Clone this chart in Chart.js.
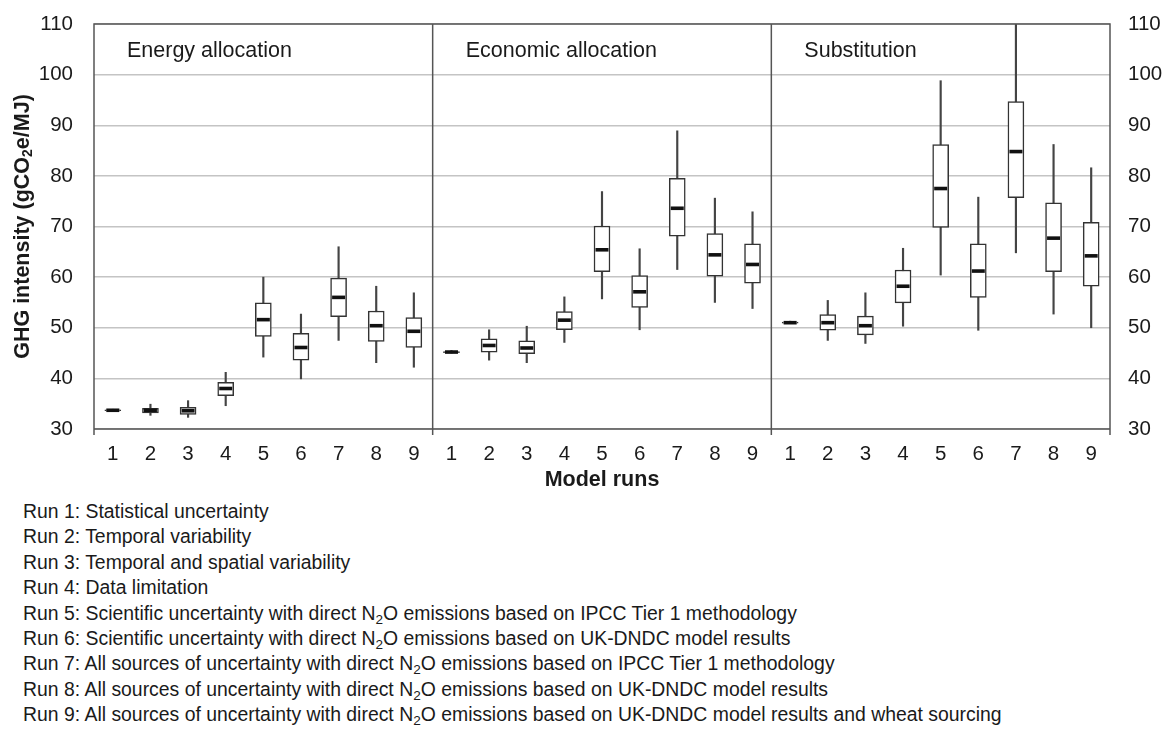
<!DOCTYPE html>
<html>
<head>
<meta charset="utf-8">
<script src="https://cdn.jsdelivr.net/npm/chart.js@4.4.1/dist/chart.umd.min.js"></script>
<style>
  html, body { margin: 0; padding: 0; background: #fff; }
  #wrap { position: relative; width: 1168px; height: 731px; background: #fff; overflow: hidden; }
  #chart { position: absolute; left: 0; top: 0; }
  #notes {
    position: absolute; left: 23px; top: 499px;
    font-family: "Liberation Sans", Arial, sans-serif; font-size: 19.4px;
    line-height: 25.4px; color: #1a1a1a; white-space: nowrap;
  }
  #notes sub { font-size: 0.7em; vertical-align: -0.3em; line-height: 0; }
</style>
</head>
<body>
<div id="wrap">
  <canvas id="chart" width="1168" height="495"></canvas>
  <div id="notes">
    <div>Run 1: Statistical uncertainty</div>
    <div>Run 2: Temporal variability</div>
    <div>Run 3: Temporal and spatial variability</div>
    <div>Run 4: Data limitation</div>
    <div>Run 5: Scientific uncertainty with direct N<sub>2</sub>O emissions based on IPCC Tier 1 methodology</div>
    <div>Run 6: Scientific uncertainty with direct N<sub>2</sub>O emissions based on UK-DNDC model results</div>
    <div>Run 7: All sources of uncertainty with direct N<sub>2</sub>O emissions based on IPCC Tier 1 methodology</div>
    <div>Run 8: All sources of uncertainty with direct N<sub>2</sub>O emissions based on UK-DNDC model results</div>
    <div>Run 9: All sources of uncertainty with direct N<sub>2</sub>O emissions based on UK-DNDC model results and wheat sourcing</div>
  </div>
</div>
<script>
// Allocation approaches, each with model runs 1-9
const panels = ['Energy allocation', 'Economic allocation', 'Substitution'];
const runs = ['1', '2', '3', '4', '5', '6', '7', '8', '9'];

// GHG intensity (gCO2e/MJ) statistics per run, panel by panel
const whiskerLow = [
  33.5, 32.7, 32.3, 34.6, 44.2, 39.9, 47.5, 43.1, 42.2,
  45.0, 43.6, 43.1, 47.1, 55.7, 49.6, 61.5, 55.0, 53.8,
  50.8, 47.5, 46.9, 50.3, 60.4, 49.5, 64.8, 52.7, 50.0
];
const boxLow = [
  33.6, 33.2, 32.9, 36.6, 48.3, 43.6, 52.2, 47.3, 46.1,
  45.1, 45.2, 44.9, 49.6, 61.1, 54.0, 68.1, 60.2, 58.8,
  50.9, 49.5, 48.6, 54.9, 69.8, 56.0, 75.7, 61.1, 58.2
];
const medians = [
  33.7, 33.7, 33.6, 38.0, 51.6, 46.1, 56.0, 50.4, 49.3,
  45.2, 46.5, 46.0, 51.5, 65.4, 57.1, 73.6, 64.4, 62.5,
  51.0, 51.0, 50.4, 58.2, 77.5, 61.2, 84.8, 67.7, 64.2
];
const boxHigh = [
  33.8, 34.1, 34.3, 39.2, 54.9, 48.9, 59.8, 53.3, 52.0,
  45.3, 47.8, 47.4, 53.2, 70.1, 60.3, 79.5, 68.6, 66.6,
  51.1, 52.6, 52.3, 61.4, 86.2, 66.6, 94.7, 74.7, 70.8
];
const whiskerHigh = [
  33.9, 34.9, 35.6, 41.2, 60.0, 52.7, 66.0, 58.2, 56.9,
  45.5, 49.6, 50.3, 56.1, 76.9, 65.6, 88.9, 75.6, 72.9,
  51.3, 55.4, 56.9, 65.7, 98.8, 75.8, 110.0, 86.2, 81.6
];
const yTicks = [30, 40, 50, 60, 70, 80, 90, 100, 110];

const FONT = '"Liberation Sans", Arial, sans-serif';
const labels = panels.flatMap(() => runs);

// frame, panel dividers, panel names and axis titles
const decorations = {
  id: 'decorations',
  afterDatasetsDraw(chart) {
    const { ctx, chartArea: a, scales: { x } } = chart;
    ctx.save();
    ctx.strokeStyle = '#555';
    ctx.lineWidth = 1.5;
    ctx.beginPath();
    ctx.moveTo(a.left, a.bottom + 6);
    ctx.lineTo(a.left, a.top);
    ctx.lineTo(a.right, a.top);
    ctx.lineTo(a.right, a.bottom + 6);
    ctx.moveTo(a.left, a.bottom);
    ctx.lineTo(a.right, a.bottom);
    const starts = [a.left];
    for (let p = 1; p < panels.length; p++) {
      const i = p * runs.length;
      const px = (x.getPixelForValue(i - 1) + x.getPixelForValue(i)) / 2;
      starts.push(px);
      ctx.moveTo(px, a.top);
      ctx.lineTo(px, a.bottom + 6);
    }
    ctx.stroke();

    ctx.fillStyle = '#1a1a1a';
    ctx.font = '21.5px ' + FONT;
    ctx.textBaseline = 'middle';
    ctx.textAlign = 'left';
    panels.forEach((name, p) => ctx.fillText(name, starts[p] + 33, a.top + 27));

    // x-axis title
    ctx.font = 'bold 21.5px ' + FONT;
    ctx.textAlign = 'center';
    ctx.fillText('Model runs', (a.left + a.right) / 2, 480);

    // y-axis title with subscript
    const parts = ['GHG intensity (gCO', '2', 'e/MJ)'];
    const big = 'bold 21.5px ' + FONT, small = 'bold 14px ' + FONT;
    ctx.font = big; const w0 = ctx.measureText(parts[0]).width;
    ctx.font = small; const w1 = ctx.measureText(parts[1]).width;
    ctx.font = big; const w2 = ctx.measureText(parts[2]).width;
    const total = w0 + w1 + w2;
    ctx.translate(23, (a.top + a.bottom) / 2);
    ctx.rotate(-Math.PI / 2);
    ctx.textAlign = 'left';
    let cx = -total / 2;
    ctx.font = big; ctx.fillText(parts[0], cx, 0); cx += w0;
    ctx.font = small; ctx.fillText(parts[1], cx, 5); cx += w1;
    ctx.font = big; ctx.fillText(parts[2], cx, 0);
    ctx.restore();
  }
};

const tickFont = { family: FONT, size: 20.5 };

// vertical axes: fixed width, no extra label padding above/below the plot
function fixVertical(width) {
  return function (s) {
    s.width = width;
    s.paddingTop = 0;
    s.paddingBottom = 0;
  };
}

new Chart(document.getElementById('chart'), {
  data: {
    labels: labels,
    datasets: [
      {
        type: 'line',
        label: 'Median',
        data: medians,
        showLine: false,
        pointStyle: 'line',
        pointRadius: 6.5,
        pointBorderWidth: 3.6,
        pointBorderColor: '#111',
        borderColor: '#111',
        order: 0
      },
      {
        type: 'bar',
        label: 'Interquartile range',
        data: boxLow.map((v, i) => [v, boxHigh[i]]),
        backgroundColor: '#fff',
        borderColor: '#333',
        borderWidth: 1.5,
        borderSkipped: false,
        barThickness: 16,
        grouped: false,
        order: 1
      },
      {
        type: 'bar',
        label: 'Range',
        data: whiskerLow.map((v, i) => [v, whiskerHigh[i]]),
        backgroundColor: '#444',
        borderWidth: 0,
        barThickness: 1.5,
        grouped: false,
        order: 2
      }
    ]
  },
  options: {
    responsive: false,
    animation: false,
    events: [],
    layout: { autoPadding: false, padding: { top: 24, left: 0, right: 0, bottom: 0 } },
    plugins: { legend: { display: false }, tooltip: { enabled: false } },
    scales: {
      x: {
        type: 'category',
        offset: true,
        grid: { display: false },
        border: { display: false },
        ticks: { color: '#1a1a1a', font: tickFont, padding: 5, autoSkip: false, maxRotation: 0 },
        afterFit(s) { s.height = 495 - 429; }
      },
      y: {
        type: 'linear',
        position: 'left',
        min: yTicks[0],
        max: yTicks[yTicks.length - 1],
        afterBuildTicks(s) { s.ticks = yTicks.map(v => ({ value: v })); },
        grid: { color: '#c4c4c4', lineWidth: 1.5, drawTicks: false },
        border: { display: false },
        ticks: { color: '#1a1a1a', font: tickFont, padding: 21 },
        afterFit: fixVertical(94)
      },
      y2: {
        type: 'linear',
        position: 'right',
        min: yTicks[0],
        max: yTicks[yTicks.length - 1],
        afterBuildTicks(s) { s.ticks = yTicks.map(v => ({ value: v })); },
        grid: { drawOnChartArea: false, drawTicks: false },
        border: { display: false },
        ticks: { color: '#1a1a1a', font: tickFont, padding: 18 },
        afterFit: fixVertical(1168 - 1110)
      }
    }
  },
  plugins: [decorations]
});
</script>
</body>
</html>
